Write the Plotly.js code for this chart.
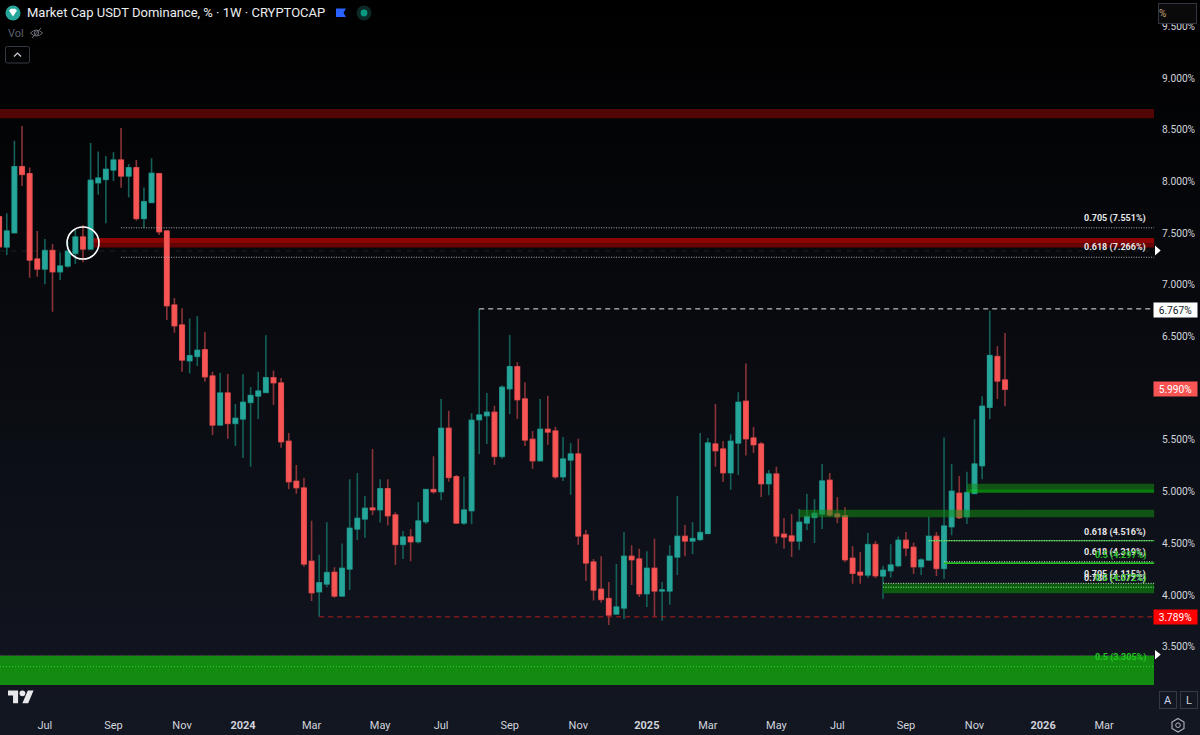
<!DOCTYPE html>
<html><head><meta charset="utf-8">
<script src="https://cdn.plot.ly/plotly-3.0.1.min.js"></script>
<style>
html,body{margin:0;padding:0;width:1200px;height:735px;overflow:hidden;background:linear-gradient(180deg,#000 0%,#131722 100%);}
#chart{position:absolute;left:0;top:0;width:1200px;height:735px;}
#icons{position:absolute;left:0;top:0;width:1200px;height:735px;pointer-events:none;}
</style></head><body>
<div id="chart"></div>
<svg id="icons" viewBox="0 0 1200 735">
 <circle cx="13" cy="13" r="7.5" fill="#26a69a"/>
 <path d="M9 10.5 L11 8.8 H15 L17 10.5 L13 16.5 Z" fill="#fff"/>
 <path d="M336 8.5 H346 L343.5 12.7 L346 17 H336 Z" fill="#2962ff"/>
 <circle cx="364" cy="13" r="7.5" fill="#0c2a27"/><circle cx="364" cy="13" r="3.4" fill="#089981"/>
 <path d="M30.5 33 Q36.5 27 42.5 33 Q36.5 39 30.5 33 Z" fill="none" stroke="#6a6d78" stroke-width="1"/>
 <circle cx="36.5" cy="33" r="2.2" fill="none" stroke="#6a6d78"/><path d="M32 38 L41 28" stroke="#6a6d78"/>
 <rect x="5.5" y="46.5" width="24" height="16.5" rx="2" fill="none" stroke="#363a45"/>
 <path d="M14 56.5 L17.5 53 L21 56.5" fill="none" stroke="#d1d4dc" stroke-width="1.2"/>
 <g transform="translate(8,687.5) scale(.72)"><path d="M14 22H7V11H0V4h14v18zM28 22h-8l7.5-18h8L28 22z" fill="#e8e8ea"/><circle cx="20" cy="8" r="4" fill="#e8e8ea"/></g>
 <polygon points="1155,245.5 1160.7,250.5 1155,255.5" fill="#fff"/>
 <polygon points="1155,650 1160.7,654.5 1155,659.5" fill="#fff"/>
 <polygon points="1178,718.5 1184,722 1184,728.5 1178,732 1172,728.5 1172,722" fill="none" stroke="#b2b5be" stroke-width="1.1"/>
 <circle cx="1178" cy="725.2" r="2.3" fill="none" stroke="#b2b5be" stroke-width="1"/>
</svg>
<script>
var firstWeek = '2023-05-22';
var open = [7.658,7.365,7.504,8.142,8.074,7.249,7.152,7.330,7.126,7.181,7.304,7.462,7.346,7.987,8.019,8.110,8.206,8.052,8.132,7.642,7.797,8.074,7.520,6.804,6.611,6.266,6.308,6.372,6.117,5.644,5.953,5.660,5.702,5.863,5.924,5.960,6.101,6.050,5.486,5.099,5.035,4.326,4.032,4.106,4.219,3.990,4.251,4.638,4.735,4.841,4.825,5.028,4.774,4.490,4.561,4.516,4.709,5.019,5.000,5.612,5.144,4.696,4.816,5.696,5.734,5.767,5.341,5.995,6.208,5.896,5.505,5.299,5.602,5.586,5.144,5.306,5.364,4.580,4.319,4.055,3.965,3.816,3.874,4.374,4.348,4.013,4.258,4.039,4.039,4.367,4.567,4.522,4.538,4.596,5.460,5.412,5.183,5.470,5.873,5.518,5.460,5.077,5.170,4.587,4.571,4.522,4.696,4.751,4.783,5.109,4.783,4.767,4.355,4.219,4.193,4.487,4.184,4.235,4.284,4.529,4.461,4.274,4.339,4.567,4.258,4.661,4.983,4.758,4.983,5.251,5.815,6.305,6.079];
var high = [7.700,7.691,8.393,8.535,8.135,7.520,7.442,7.394,7.313,7.417,7.529,7.578,8.371,8.290,8.245,8.281,8.516,8.168,8.206,7.942,8.223,8.074,7.520,6.872,6.772,6.675,6.698,6.543,6.159,6.150,6.137,5.847,6.134,6.011,6.159,6.511,6.172,6.099,5.567,5.257,5.135,4.719,4.390,4.703,4.268,4.497,5.119,5.180,4.957,5.412,5.119,5.119,4.800,4.619,4.638,4.899,5.028,5.341,5.896,5.783,5.161,5.144,5.757,6.767,5.954,5.831,6.028,6.515,6.250,6.057,5.586,5.896,5.928,5.628,5.528,5.470,5.512,4.629,4.348,4.374,4.126,4.300,4.609,4.480,4.448,4.422,4.545,4.126,4.480,4.957,4.677,4.703,5.567,5.518,5.847,5.489,5.554,5.960,6.240,5.625,5.480,5.209,5.241,4.745,4.783,4.832,4.980,4.928,5.267,5.180,4.948,4.848,4.471,4.416,4.603,4.522,4.284,4.490,4.567,4.609,4.509,4.355,4.758,4.609,5.522,5.267,5.151,5.193,5.699,5.921,6.750,6.405,6.534];
var low = [7.336,7.288,7.504,7.955,7.068,7.078,7.004,6.740,7.046,7.165,7.201,7.217,7.346,7.871,7.594,8.003,7.939,7.845,7.620,7.546,7.797,7.481,6.659,6.537,6.159,6.143,6.214,6.063,5.547,5.644,5.511,5.440,5.325,5.241,5.702,5.950,5.837,5.425,5.022,4.980,4.274,3.942,3.790,4.074,3.974,3.990,4.048,4.532,4.554,4.774,4.700,4.671,4.290,4.348,4.326,4.497,4.687,4.980,4.916,5.096,4.687,4.677,4.687,5.364,5.460,5.257,5.318,5.750,5.702,5.441,5.219,5.299,5.454,5.125,5.103,4.970,4.487,4.135,3.948,3.926,3.710,3.816,3.768,4.097,3.981,3.884,3.790,3.752,3.907,4.193,4.374,4.397,4.522,4.587,5.241,5.093,5.019,5.161,5.348,5.373,4.948,4.964,4.497,4.448,4.367,4.438,4.629,4.503,4.638,4.758,4.693,4.316,4.110,4.110,4.168,4.161,3.965,4.168,4.268,4.374,4.203,4.193,4.329,4.184,4.155,4.577,4.735,4.687,4.974,5.119,5.699,5.896,5.825];
var close = [7.368,7.520,8.142,8.068,7.239,7.152,7.330,7.126,7.181,7.323,7.462,7.346,8.010,8.032,8.116,8.206,8.052,8.132,7.642,7.803,8.077,7.513,6.798,6.604,6.272,6.314,6.366,6.111,5.644,5.953,5.660,5.708,5.863,5.930,5.972,6.101,6.053,5.483,5.096,5.038,4.300,4.023,4.119,4.216,3.990,4.258,4.645,4.741,4.838,4.825,5.028,4.767,4.490,4.561,4.516,4.716,5.019,5.000,5.612,5.138,4.696,4.822,5.689,5.741,5.767,5.341,6.008,6.208,5.889,5.499,5.299,5.602,5.576,5.144,5.315,5.364,4.571,4.310,4.048,3.958,3.807,3.884,4.374,4.342,4.013,4.258,4.039,4.048,4.374,4.567,4.522,4.545,4.603,5.470,5.396,5.183,5.486,5.863,5.512,5.454,5.077,5.170,4.571,4.561,4.522,4.703,4.758,4.790,5.103,4.774,4.758,4.342,4.210,4.193,4.487,4.187,4.239,4.290,4.529,4.455,4.274,4.339,4.567,4.258,4.667,5.003,4.751,4.990,5.267,5.825,6.315,6.070,5.990];

var tickDates = ['2023-07-03','2023-09-04','2023-11-06','2024-01-01','2024-03-04','2024-05-06','2024-07-01','2024-09-02','2024-11-04','2025-01-06','2025-03-03','2025-05-05','2025-06-30','2025-09-01','2025-11-03','2026-01-05','2026-03-02'];
var tickNames = ['Jul','Sep','Nov','<b>2024</b>','Mar','May','Jul','Sep','Nov','<b>2025</b>','Mar','May','Jul','Sep','Nov','<b>2026</b>','Mar'];
var priceTicks = [3.5,4,4.5,5,5.5,6.5,7,7.5,8,8.5,9,9.5];
var priceTickText = ['3.500%','4.000%','4.500%','5.000%','5.500%','6.500%','7.000%','7.500%','8.000%','8.500%','9.000%','9.500%'];
var axisLeft = '2023-05-22 18:30', axisRight = '2026-04-17 19:00';

var fibLines = [
 {x0:'2023-09-11',y:7.551},{x0:'2023-09-11',y:7.266}
];
var greenLines = [
 {x0:'2025-09-22',y:4.525,white:true},{x0:'2025-10-06',y:4.322,white:true},
 {x0:'2025-08-11',y:4.113,white:true},{x0:'2025-08-11',y:4.075,white:true},{x0:'2025-08-11',y:4.073,white:false}
];
var W=1200,H=735,L=0,R=1155,T=0,B=710;
function px(x){return (x-L)/(R-L);} function py(y){return (B-y)/(B-T);}

var dates=[]; (function(){var d=new Date(firstWeek+'T00:00:00Z');for(var i=0;i<open.length;i++){dates.push(new Date(d.getTime()+i*7*864e5).toISOString().slice(0,10));}})();
var bodyHigh=open.map(function(o,i){return Math.max(o,close[i]);});
var bodyLow=open.map(function(o,i){return Math.min(o,close[i]);});
var GREEN='#26a69a',RED='#f75454',GW='#14615a',RW='#8a3338';

var traces=[
 {type:'candlestick',x:dates,open:open,high:high,low:low,close:close,whiskerwidth:0,hoverinfo:'skip',showlegend:false,
  increasing:{line:{color:GW,width:1.6},fillcolor:GW},decreasing:{line:{color:RW,width:1.6},fillcolor:RW}},
 {type:'candlestick',x:dates,open:open,high:bodyHigh,low:bodyLow,close:close,whiskerwidth:0,hoverinfo:'skip',showlegend:false,
  increasing:{line:{color:GREEN,width:0.8},fillcolor:GREEN},decreasing:{line:{color:RED,width:0.8},fillcolor:RED}}
];

function rect(x0,y0,y1,fill,layer,xrefPaper){return {type:'rect',xref:xrefPaper?'paper':'x',yref:'y',x0:x0,x1:xrefPaper?1154/1155:'2026-04-17',y0:y0,y1:y1,fillcolor:fill,line:{width:0},layer:layer||'above'};}
function hline(x0,y,color,dash,w,xrefPaper,layer){return {type:'line',xref:xrefPaper?'paper':'x',yref:'y',x0:x0,x1:xrefPaper?1154/1155:'2026-04-17',y0:y,y1:y,line:{color:color,dash:dash,width:w||1},layer:layer||'above'};}

var shapes=[
 rect(0,8.61,8.70,'#520505','below',true),
 rect('2023-08-14',7.40,7.453,'#8c0404','below'),
 rect('2023-08-14',7.36,7.40,'#6a0404','below'),
 hline(0,7.327,'rgba(255,255,255,0.10)','5px,6px',1,true,'below'),
 rect('2025-05-26',4.751,4.825,'rgba(20,140,20,0.55)'),
 rect('2025-10-27',5.022,5.077,'rgba(20,140,20,0.55)'),
 rect('2025-10-27',4.990,5.022,'rgba(10,190,10,0.62)'),
 rect('2025-08-11',4.016,4.113,'#0d5a10'),
 rect(0,3.130,3.415,'#138a10','below',true),
 hline(0,3.415,'rgba(60,60,70,0.9)','5px,3px',1,true),
 hline(0,3.307,'#2fd32a','1px,2px',1,true),
 hline('2024-08-05',6.767,'#e8e8e8','5px,4px',1),
 hline('2024-03-11',3.789,'#b71c1c','5px,4px',1),
 {type:'circle',xref:'x',yref:'y',x0:'2023-07-23 08:00',x1:'2023-08-21 16:00',y0:7.249,y1:7.559,line:{color:'#ffffff',width:1.6},fillcolor:'rgba(0,0,0,0)',layer:'above'}
];
fibLines.forEach(function(f){shapes.push(hline(f.x0,f.y,'#b0b3ba','1px,1.5px',1));});
shapes.push(hline('2025-10-06',4.308,'#1fbf1f','solid',1.8));
shapes.push(hline('2025-09-22',4.525,'#20c820','solid',1));
greenLines.forEach(function(f){shapes.push(hline(f.x0,f.y,f.white?'#d8dbd8':'#22d322','1px,1.5px',1));});

var F='Roboto, sans-serif';
function ann(x,y,text,o){o=o||{};return Object.assign({xref:'paper',yref:'paper',x:px(x),y:py(y),text:text,showarrow:false,xanchor:o.xa||'right',yanchor:'middle',font:{family:F,size:o.size||10,color:o.color||'#d1d4dc'}},o.extra||{});}
function tag(y,text,bg,col){return ann(1175.5,y,text,{xa:'center',size:10.2,color:col,extra:{bgcolor:bg,width:43,height:14,borderpad:0,align:'center'}});}
var annotations=[
 ann(25,13,'Market Cap USDT Dominance, % · 1W · CRYPTOCAP',{xa:'left',size:13,color:'#ebedf0'}),
 ann(6,33,'Vol',{xa:'left',size:11,color:'#5d606b'}),
 ann(1147.5,218,'<b>0.705 (7.551%)</b>',{size:9,color:'#e4e6e8'}),
 ann(1147.5,248,'<b>0.618 (7.266%)</b>',{size:9,color:'#e4e6e8'}),
 ann(1147.5,532,'<b>0.618 (4.516%)</b>',{size:9,color:'#e4e6e8'}),
 ann(1147.5,552,'<b>0.618 (4.319%)</b>',{size:9,color:'#e4e6e8'}),
 ann(1147.5,555,'<b>0.5 (4.297%)</b>',{size:9,color:'#2bbf2b'}),
 ann(1147.5,574,'<b>0.705 (4.115%)</b>',{size:9,color:'#e4e6e8'}),
 ann(1147.5,578,'<b>0.786 (4.072%)</b>',{size:9,color:'#e4e6e8'}),
 ann(1147.5,578.5,'<b>0.5 (4.072%)</b>',{size:9,color:'#2bbf2b'}),
 ann(1147.5,657.5,'<b>0.5 (3.305%)</b>',{size:9,color:'#22c522'}),
 tag(310,'6.767%','#ffffff','#131722'),
 tag(388.5,'5.990%','#f75454','#ffffff'),
 tag(617,'3.789%','#ff0000','#ffffff'),
 ann(1177.5,13.5,'%',{xa:'center',size:10,color:'#c9a77a',extra:{bgcolor:'#0a0a0a',bordercolor:'#33363f',borderwidth:1,width:37,height:19,borderpad:0,align:'left'}}),
 ann(1167.5,700,'A',{xa:'center',size:11,color:'#c8d4ee',extra:{bgcolor:'rgba(19,23,34,1)',bordercolor:'#363a45',borderwidth:1,width:16,height:16,borderpad:0}}),
 ann(1188.5,700,'L',{xa:'center',size:11,color:'#d1d4dc',extra:{bgcolor:'rgba(19,23,34,1)',bordercolor:'#363a45',borderwidth:1,width:16,height:16,borderpad:0}})
];

var layout={
 width:1200,height:735,margin:{l:0,r:45,t:0,b:25,pad:0},autosize:false,
 paper_bgcolor:'rgba(0,0,0,0)',plot_bgcolor:'rgba(0,0,0,0)',showlegend:false,boxgap:0.15,
 xaxis:{type:'date',range:[axisLeft,axisRight],tickmode:'array',tickvals:tickDates,ticktext:tickNames,showgrid:false,zeroline:false,showline:false,
   rangeslider:{visible:false},ticks:'outside',ticklen:5,tickcolor:'rgba(0,0,0,0)',tickfont:{family:F,size:11,color:'#d1d4dc'},tickangle:0},
 yaxis:{side:'right',range:[2.888,9.754],tickmode:'array',tickvals:priceTicks,ticktext:priceTickText,showgrid:false,zeroline:false,showline:false,
   ticks:'outside',ticklen:4,tickcolor:'rgba(0,0,0,0)',tickfont:{family:F,size:10.2,color:'#d1d4dc'}},
 shapes:shapes,annotations:annotations
};
Plotly.newPlot('chart',traces,layout,{displayModeBar:false,staticPlot:true});
</script></body></html>
